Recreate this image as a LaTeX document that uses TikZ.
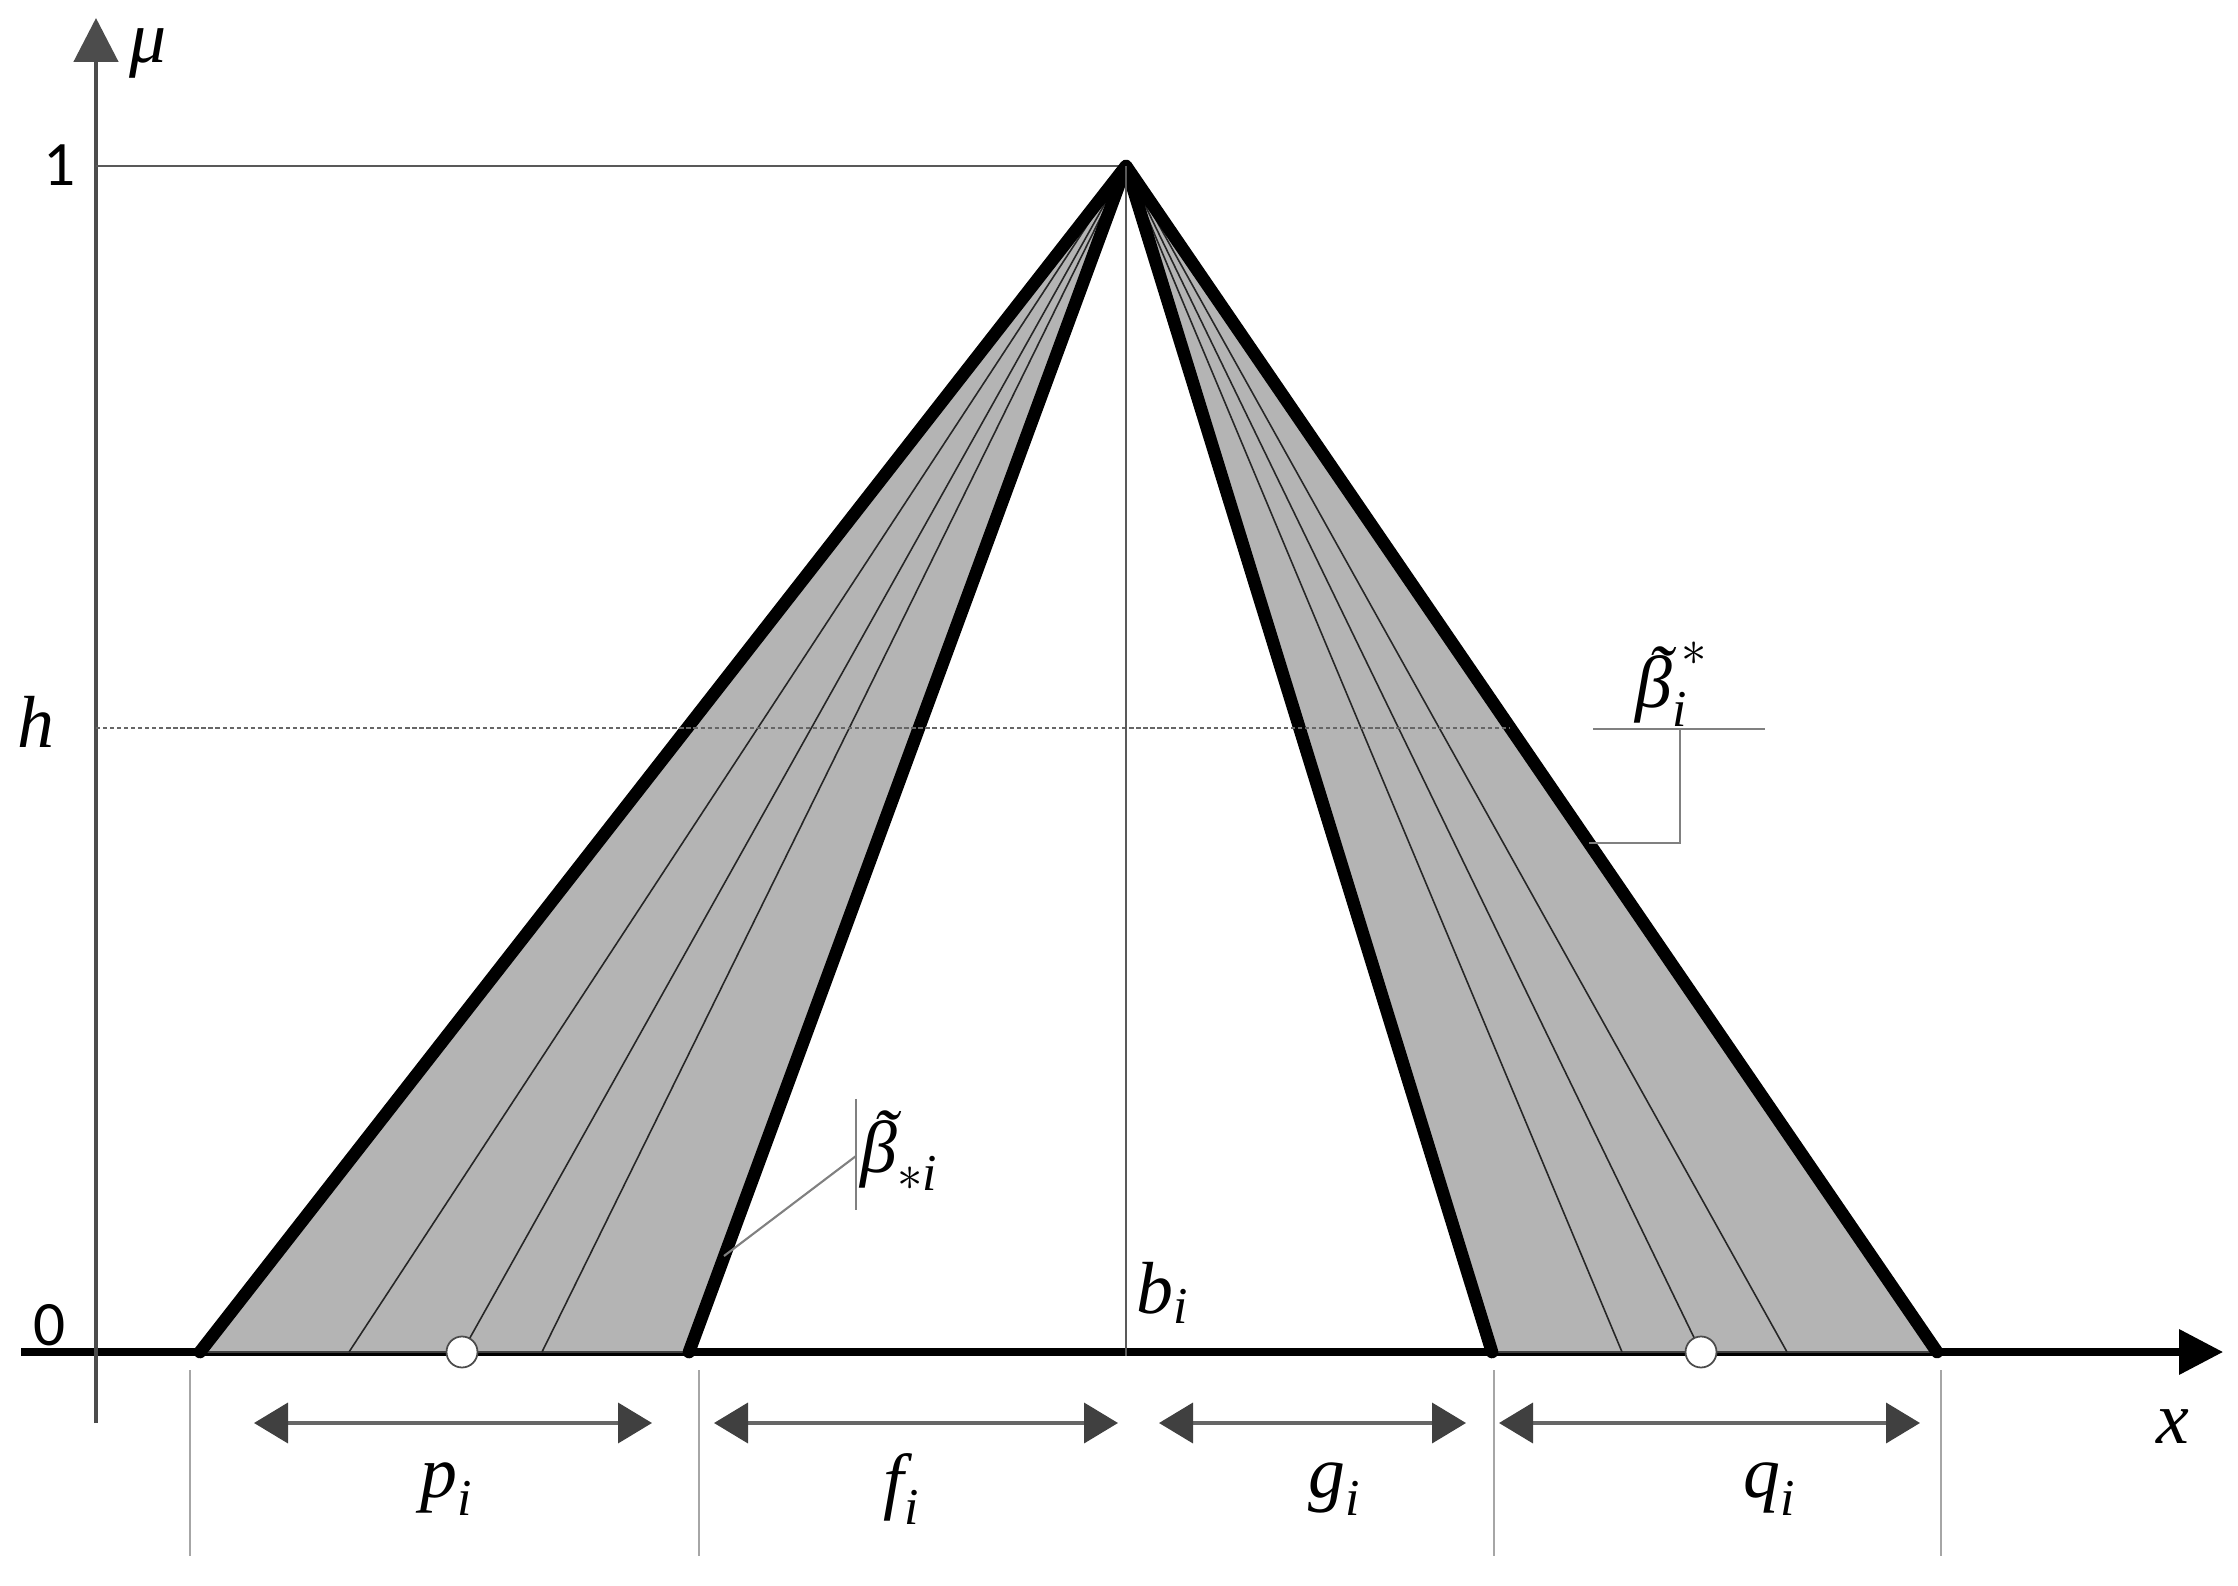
\documentclass[tikz,border=0pt]{standalone}
\usepackage{amsmath}
\usepackage{fontspec}
\setmainfont{Liberation Serif}
\newfontfamily\digitfont{Carlito}
\usetikzlibrary{arrows.meta}
\newcommand{\ivar}[1]{\text{\itshape #1}}
\newcommand{\tbeta}{\text{\itshape\makebox[0pt][l]{\hspace{0.16em}\raisebox{0.16em}{\char"02DC}}β}}
\definecolor{fangray}{RGB}{180,180,180}

\begin{document}
\begin{tikzpicture}[x=1.0cm,y=1.0cm,
		font=\fontsize{21}{25}\selectfont,
		lbl/.style={inner sep=0pt},
		digit/.style={inner sep=0pt,font=\fontsize{18}{22}\selectfont\digitfont},
		axisx/.style={-{Triangle[length=0.44cm,width=0.44cm]},line width=2pt,black},
		axisy/.style={-{Triangle[length=0.44cm,width=0.44cm]},line width=1.4pt,black!70},
		levelln/.style={line width=0.6pt,black!65},
		hln/.style={line width=0.6pt,black!60,dash pattern=on 1.2pt off 0.8pt},
		fan/.style={fill=fangray},
		baseln/.style={line width=0.7pt,black!75},
		thinln/.style={line width=0.45pt,black!85},
		thickln/.style={line width=3.6pt,line cap=round,line join=round},
		hollowpt/.style={circle,fill=white,draw=black!70,line width=0.5pt,minimum size=0.31cm,inner sep=0pt},
		dimln/.style={{Triangle[length=0.34cm,width=0.4cm,color=black!75]}-{Triangle[length=0.34cm,width=0.4cm,color=black!75]},line width=1.1pt,black!60},
		extln/.style={line width=0.6pt,black!35},
		leader/.style={line width=0.6pt,black!50}]
		\useasboundingbox (-0.96,-2.33) rectangle (21.42,13.52);
		% apex and feet of the two fans
		\coordinate (A) at (10.30,11.86);
		\coordinate (L1) at (1.04,0);
		\coordinate (L2) at (5.93,0);
		\coordinate (R1) at (13.96,0);
		\coordinate (R2) at (18.41,0);
		% axes
		\draw[axisx] (-0.75,0) -- (21.27,0);
		\draw[axisy] (0,-0.71) -- (0,13.34);
		\node[lbl] (mu) at (0.52,12.99) {$\ivar{μ}$};
		\node[lbl] (xlab) at (20.77,-0.75) {$\ivar{x}$};
		\node[digit] (one) at (-0.36,11.87) {1};
		\node[digit] (zero) at (-0.46,0.27) {0};
		\node[lbl] (hlab) at (-0.60,6.30) {$\ivar{h}$};
		\draw[levelln] (0,11.86) -- (A);
		% shaded fans
		\fill[fan] (L1) -- (A) -- (L2) -- cycle;
		\fill[fan] (R1) -- (A) -- (R2) -- cycle;
		\draw[baseln] (L1) -- (L2);
		\draw[baseln] (R1) -- (R2);
		\foreach \b in {2.53,3.66,4.46,15.26,16.05,16.91}
			\draw[thinln] (A) -- (\b,0);
		\draw[thickln] (L1) -- (A) -- (L2);
		\draw[thickln] (R1) -- (A) -- (R2);
		\draw[hln] (0,6.24) -- (14.14,6.24);
		\draw[levelln] (A) -- (10.30,-0.04);
		\node[hollowpt] (pc) at (3.66,0) {};
		\node[hollowpt] (qc) at (16.05,0) {};
		\node[lbl,anchor=base west] (blab) at (10.40,0.39) {$\ivar{b}_{\ivar{i}}$};
		% leaders
		\draw[leader] (14.97,6.23) -- (16.69,6.23);
		\draw[leader] (15.84,6.23) -- (15.84,5.09) -- (14.93,5.09);
		\node[lbl,anchor=base] (bup) at (15.76,6.44) {$\tbeta_{\ivar{i}}^{\,*}$};
		\draw[leader] (7.60,2.53) -- (7.60,1.42);
		\draw[leader] (7.60,1.96) -- (6.28,0.96);
		\node[lbl,anchor=base west] (blow) at (7.64,1.80) {$\tbeta_{*\ivar{i}}$};
		% dimensions
		\foreach \x in {0.94,6.03,13.98,18.45}
			\draw[extln] (\x,-0.18) -- (\x,-2.04);
		\draw[dimln] (1.58,-0.71) -- (5.56,-0.71);
		\draw[dimln] (6.18,-0.71) -- (10.22,-0.71);
		\draw[dimln] (10.63,-0.71) -- (13.70,-0.71);
		\draw[dimln] (14.03,-0.71) -- (18.24,-0.71);
		\node[lbl] (plab) at (3.51,-1.37) {$\ivar{p}_{\ivar{i}}$};
		\node[lbl] (flab) at (8.06,-1.37) {$\ivar{f}_{\ivar{i}}$};
		\node[lbl] (glab) at (12.39,-1.37) {$\ivar{g}_{\ivar{i}}$};
		\node[lbl] (qlab) at (16.74,-1.37) {$\ivar{q}_{\ivar{i}}$};
\end{tikzpicture}
\end{document}
